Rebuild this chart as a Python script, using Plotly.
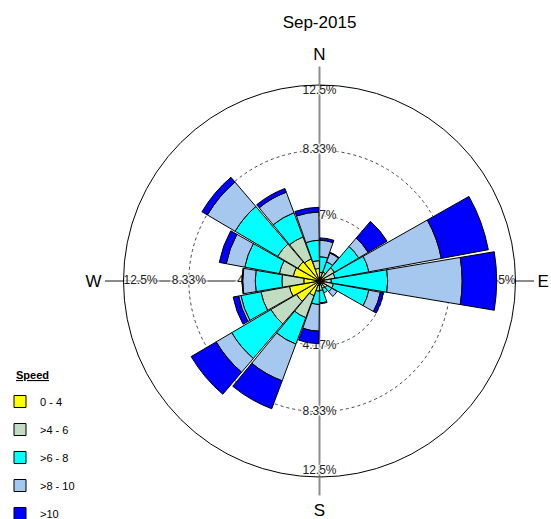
import plotly.graph_objects as go

# ---------------- data ----------------
directions = [10, 30, 50, 70, 90, 110, 130, 150, 170, 190, 210, 230, 250, 270, 290, 310, 330, 350]
speed_bins = ["0 - 4", ">4 - 6", ">6 - 8", ">8 - 10", ">10"]
bin_colors = ["#FFFF00", "#C1DCC1", "#00FFFF", "#A6C8EE", "#0000FF"]

# frequency (%) of each speed band per direction
pct_0_4  = [0.25, 0.25, 0.30, 0.30, 0.30, 0.30, 0.25, 0.20, 0.25, 0.30, 1.00, 1.70, 1.95, 1.00, 1.70, 1.60, 1.50, 0.80]
pct_4_6  = [0.30, 0.35, 0.80, 0.70, 0.45, 0.60, 0.30, 0.30, 0.35, 0.35, 1.50, 1.90, 1.85, 1.40, 0.90, 1.50, 1.50, 0.50]
pct_6_8  = [1.00, 0.70, 1.80, 2.20, 3.60, 2.30, 0.35, 0.30, 0.80, 0.85, 1.80, 2.90, 1.30, 1.70, 2.25, 3.15, 1.65, 1.30]
pct_8_10 = [1.05, 0.60, 0.70, 4.70, 4.75, 0.75, 0.40, 0.00, 0.05, 1.70, 2.50, 1.15, 0.15, 0.80, 1.20, 2.05, 1.40, 1.80]
pct_10   = [0.15, 0.05, 1.40, 3.05, 2.20, 0.20, 0.00, 0.00, 0.00, 0.80, 1.90, 1.85, 0.35, 0.05, 0.45, 0.40, 0.25, 0.30]
series = [pct_0_4, pct_4_6, pct_6_8, pct_8_10, pct_10]

r_max = 12.5
ring_vals = [12.5 / 3, 25 / 3, 12.5]
ring_text = ["4.17%", "8.33%", "12.5%"]
compass_vals = [0, 90, 180, 270]
compass_text = ["N", "E", "S", "W"]

# ---------------- figure ----------------
W, H = 551, 519
cx, cy, R = 319.5, 281, 196
FONT = "Liberation Sans, Arial, sans-serif"
domain = dict(x=[(cx - R) / W, (cx + R) / W], y=[(H - cy - R) / H, (H - cy + R) / H])

fig = go.Figure()

# radial labels on each compass axis (in the lower subplot, beneath the bars)
lab_r, lab_t, lab_txt, lab_pos = [], [], [], []
for ang, inner_pos in zip(compass_vals, ["bottom center", "middle left", "top center", "middle right"]):
    for v, t in zip(ring_vals, ring_text):
        lab_r.append(v)
        lab_t.append(ang)
        lab_txt.append(t)
        lab_pos.append(inner_pos if t == "12.5%" else "middle center")

fig.add_trace(go.Scatterpolar(
    r=lab_r, theta=lab_t, text=lab_txt, mode="text", textposition=lab_pos,
    textfont=dict(family=FONT, size=12, color="#222",
                  shadow="2px 0px 1px white, -2px 0px 1px white, 0px 2px 1px white, 0px -2px 1px white"),
    cliponaxis=False, showlegend=False, hoverinfo="skip", subplot="polar"))

for name, col, vals in zip(speed_bins, bin_colors, series):
    fig.add_trace(go.Barpolar(
        r=vals, theta=directions, name=name, width=19,
        marker=dict(color=col, line=dict(color="black", width=1)),
        legendgroup=name, subplot="polar2"))

fig.update_layout(
    width=W, height=H, autosize=False,
    margin=dict(l=0, r=0, t=0, b=0, autoexpand=False),
    paper_bgcolor="white",
    font=dict(family=FONT, color="black"),
    title=dict(text="Sep-2015", x=cx / W, xanchor="center", y=1 - 22 / H, yanchor="middle",
               font=dict(size=17, color="black")),
    polar=dict(
        domain=domain,
        bgcolor="white",
        radialaxis=dict(range=[0, r_max], tickvals=ring_vals[:2], showticklabels=False, ticks="",
                        showline=False, gridcolor="#444", griddash="3px,3px", gridwidth=1),
        angularaxis=dict(rotation=90, direction="clockwise", tickmode="array",
                         tickvals=compass_vals, ticktext=compass_text,
                         ticks="outside", ticklen=18, tickwidth=2, tickcolor="#8c8c8c",
                         showgrid=True, gridcolor="#8c8c8c", gridwidth=2,
                         showline=True, linecolor="black", linewidth=1,
                         tickfont=dict(size=17, color="black")),
    ),
    polar2=dict(
        domain=domain,
        bgcolor="rgba(0,0,0,0)",
        barmode="stack",
        radialaxis=dict(range=[0, r_max], visible=False, showgrid=False),
        angularaxis=dict(rotation=90, direction="clockwise", visible=False,
                         showgrid=False, showline=False, ticks=""),
    ),
    legend=dict(x=0.0, xanchor="left", y=1 - 387 / H, yanchor="top",
                traceorder="grouped", tracegroupgap=9,
                font=dict(size=11), bgcolor="rgba(0,0,0,0)"),
    annotations=[dict(text="<b><u>Speed</u></b>", x=14 / W, y=1 - 375 / H, xref="paper", yref="paper",
                      xanchor="left", yanchor="middle", showarrow=False, font=dict(size=11))],
)

fig.write_html("out.html", config={"responsive": False, "displayModeBar": False},
               post_script="document.body.style.margin='0';document.body.style.overflow='hidden';")
